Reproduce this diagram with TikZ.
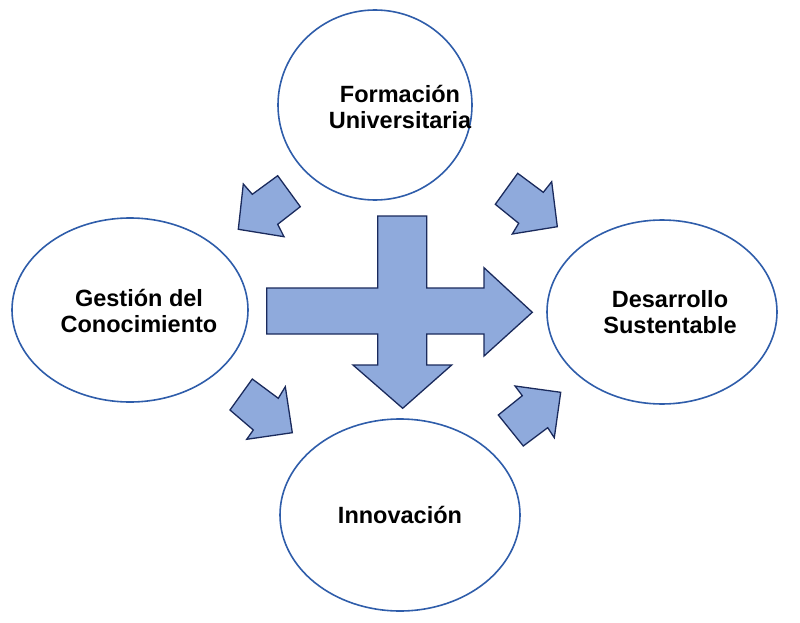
\documentclass[tikz,border=0pt]{standalone}
\usepackage{fontspec}
\setmainfont{Liberation Sans}
\definecolor{afill}{HTML}{8FAADC}
\definecolor{aline}{HTML}{1A2A5C}
\definecolor{eline}{HTML}{2F5DAA}
\begin{document}
\begin{tikzpicture}[x=1pt,y=-1pt,
  ell/.style={draw=eline,line width=1.6pt,fill=white},
  lbl/.style={font=\fontsize{23.5}{26}\selectfont\bfseries,align=center},
  arr/.style={draw=aline,fill=afill,line width=1.3pt,line join=miter}]
\useasboundingbox (0,0) rectangle (800,623);
\draw[ell] (375,105) ellipse [x radius=97,y radius=95];
\draw[ell] (130,310) ellipse [x radius=118,y radius=92];
\draw[ell] (662,312) ellipse [x radius=115,y radius=92];
\draw[ell] (400,515) ellipse [x radius=120,y radius=96];
\node[lbl] (f) at (400,107) {Formación\\Universitaria};
\node[lbl] (g) at (139,311) {Gestión del\\Conocimiento};
\node[lbl] (d) at (670,312) {Desarrollo\\Sustentable};
\node[lbl] (i) at (400,515) {Innovación};
% cross arrow
\draw[arr] (266.7,288) -- (377.7,288) -- (377.7,216) -- (426.7,216) -- (426.7,288) -- (484,288)
  -- (484,267.7) -- (532.3,312.3) -- (484,356) -- (484,334) -- (426.7,334) -- (426.7,365)
  -- (451.7,365) -- (402.7,408.3) -- (353,365) -- (377.7,365) -- (377.7,334) -- (266.7,334) -- cycle;
% small arrows
\draw[arr] (243.3,184) -- (252.3,194.3) -- (277.7,175.7) -- (300.3,206.7) -- (277.7,224.3) -- (284,236.7) -- (238.3,229.3) -- cycle;
\draw[arr] (551.7,181.7) -- (557.3,226.7) -- (512.3,234) -- (518.7,223.3) -- (495.3,204.3) -- (517.7,173.3) -- (543.3,192.3) -- cycle;
\draw[arr] (230,410) -- (252.3,379) -- (278.3,398.3) -- (285.3,386.7) -- (292.3,432.7) -- (246.7,439.3) -- (253.3,430) -- cycle;
\draw[arr] (498.3,415) -- (522.3,395.7) -- (515,386) -- (560.7,392.3) -- (554.3,437.7) -- (547.7,427.7) -- (523.3,446) -- cycle;
\end{tikzpicture}
\end{document}
